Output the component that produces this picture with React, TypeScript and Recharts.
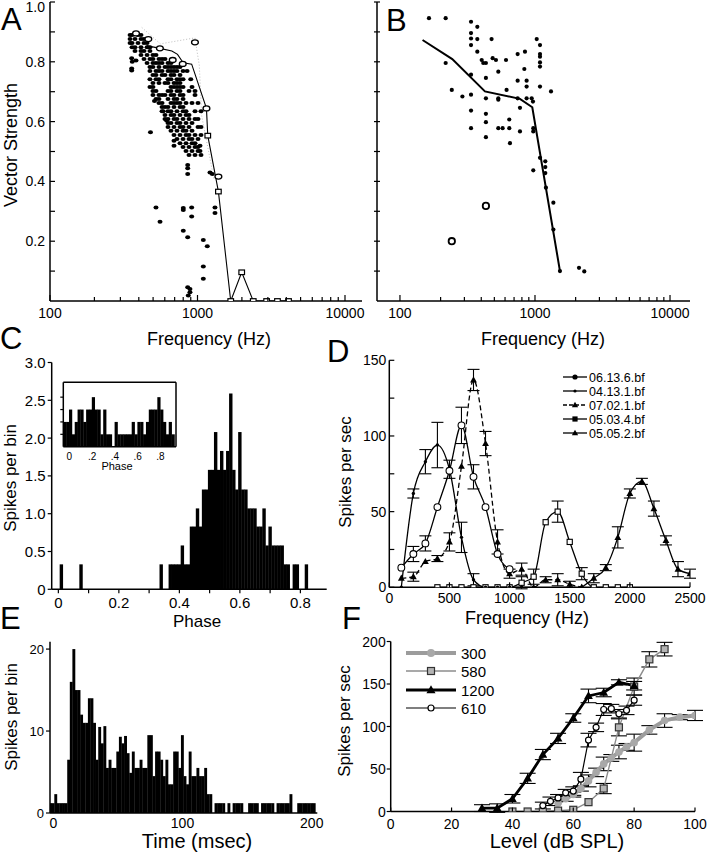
import React from "react";
import {
  ComposedChart,
  Scatter,
  Line,
  Bar,
  XAxis,
  YAxis,
  ErrorBar,
  ReferenceLine,
} from "recharts";

const W = 712;
const H = 853;
const FONT = "'Liberation Sans', Arial, Helvetica, sans-serif";
const AX = { stroke: "#000", strokeWidth: 1.5 };

// ---------- A: vector strength, population ----------
const aCloudRows: [number, number[]][] = [
  [0.89, [349, 360, 395, 414]],
  [0.876, [349, 377, 414, 434]],
  [0.863, [349, 360, 395, 434, 455]],
  [0.849, [360, 377, 414, 455, 476]],
  [0.836, [377, 414, 434, 476]],
  [0.823, [414, 455, 499, 523]],
  [0.809, [434, 476, 499, 548, 575, 602]],
  [0.796, [455, 499, 523, 548, 575, 631, 661]],
  [0.783, [476, 499, 548, 602, 631, 661, 693, 726, 761]],
  [0.769, [476, 523, 548, 575, 631, 661, 693, 726, 798, 850]],
  [0.756, [499, 523, 575, 602, 661, 693, 761]],
  [0.742, [476, 523, 548, 631, 661, 726, 761, 798, 900]],
  [0.729, [499, 548, 602, 631, 693, 726, 761]],
  [0.716, [476, 499, 661, 693, 726, 761, 798, 918]],
  [0.702, [499, 523, 631, 661, 726, 761, 876, 962]],
  [0.689, [499, 548, 575, 602, 661, 693, 761, 798, 962]],
  [0.676, [523, 548, 631, 693, 726, 798]],
  [0.662, [548, 575, 661, 693, 726, 761, 836, 918, 1008]],
  [0.649, [575, 602, 631, 693, 761, 798]],
  [0.635, [575, 631, 661, 726, 798, 836, 962, 1056]],
  [0.622, [602, 661, 693, 761, 836, 876]],
  [0.609, [602, 631, 693, 726, 798, 876, 962, 1008]],
  [0.595, [631, 661, 726, 761, 836, 918]],
  [0.582, [631, 693, 761, 798, 876, 1008, 1056]],
  [0.569, [661, 726, 798, 836, 918]],
  [0.555, [693, 761, 836, 876, 962, 1056]],
  [0.542, [726, 798, 876, 918, 1008]],
  [0.528, [761, 836, 918, 962]],
  [0.515, [798, 876, 962, 1008]],
  [0.502, [836, 918, 1008]],
  [0.488, [876, 962, 1056]],
];
const aExtraDots: [number, number][] = [
  [358, 0.812], [361, 0.8], [358, 0.778], [358, 0.771], [383, 0.804],
  [480, 0.564], [511, 0.669], [585, 0.635], [617, 0.604],
  [523, 0.313], [557, 0.265], [801, 0.311], [801, 0.304], [913, 0.313],
  [913, 0.283], [1314, 0.313], [1314, 0.294], [801, 0.235], [858, 0.213],
  [1095, 0.204], [1165, 0.183], [1095, 0.115], [1095, 0.074], [858, 0.046],
  [889, 0.04], [889, 0.029], [866, 0.018], [858, 0.455], [858, 0.444],
  [858, 0.425], [1215, 0.43], [1260, 0.425], [693, 0.536], [693, 0.519],
  [1040, 0.519], [1040, 0.502],
];
const aOpen: [number, number][] = [
  [383, 0.895], [464, 0.876], [556, 0.845], [679, 0.806], [794, 0.793],
  [961, 0.865], [1150, 0.644], [1386, 0.416],
];
const aSquares: [number, number][] = [
  [1174, 0.553], [1386, 0.366], [1680, 0], [1994, 0.096], [2388, 0],
  [2942, 0], [3484, 0], [4142, 0],
];
const aLine: [number, number][] = [
  [452, 0.854], [556, 0.845], [670, 0.836], [732, 0.825], [800, 0.797],
  [913, 0.792], [1150, 0.644], [1174, 0.553], [1386, 0.366], [1680, 0],
  [1994, 0.096], [2388, 0], [4142, 0],
];
const aGrey: [number, number][] = [
  [419, 0.915], [560, 0.86], [961, 0.88], [1029, 0.787], [1067, 0.62], [1290, 0.41],
];

// ---------- B: vector strength, single units ----------
const bDots: [number, number][] = [
  [164, 0.946], [218, 0.946], [336, 0.934], [374, 0.917], [336, 0.896],
  [336, 0.878], [374, 0.876], [477, 0.876], [1030, 0.876], [336, 0.856],
  [374, 0.834], [218, 0.796], [403, 0.806], [414, 0.796], [433, 0.796],
  [486, 0.812], [514, 0.806], [610, 0.806], [535, 0.767], [336, 0.757],
  [433, 0.746], [744, 0.826], [843, 0.834], [834, 0.776], [744, 0.737],
  [867, 0.737], [867, 0.717], [616, 0.706], [242, 0.706], [290, 0.684],
  [336, 0.69], [433, 0.678], [535, 0.678], [535, 0.673], [744, 0.678],
  [867, 0.678], [945, 0.678], [966, 0.667], [774, 0.646], [336, 0.637],
  [433, 0.626], [645, 0.607], [433, 0.598], [336, 0.578], [433, 0.548],
  [535, 0.578], [576, 0.578], [645, 0.578], [774, 0.567], [971, 0.578],
  [971, 0.567], [653, 0.528], [1089, 0.856], [1089, 0.826], [1089, 0.817],
  [1089, 0.798], [1089, 0.784], [1089, 0.717], [1314, 0.701], [1089, 0.479],
  [1192, 0.467], [1192, 0.448], [1192, 0.428], [971, 0.437], [1205, 0.379],
  [1368, 0.329], [1368, 0.239], [1531, 0.1], [2118, 0.111], [2318, 0.099],
];
const bOpen: [number, number][] = [[433, 0.318], [242, 0.2]];
const bLine: [number, number][] = [
  [147, 0.873], [244, 0.809], [426, 0.701], [774, 0.676], [955, 0.648], [1531, 0.1],
];

// ---------- C: phase histogram + inset ----------
const cPhase = [
  0.01, 0.075, 0.34, 0.37, 0.38, 0.39, 0.4, 0.41, 0.42, 0.43, 0.44, 0.45,
  0.46, 0.47, 0.48, 0.49, 0.5, 0.51, 0.52, 0.53, 0.54, 0.55, 0.56, 0.57,
  0.58, 0.59, 0.6, 0.61, 0.62, 0.63, 0.64, 0.65, 0.66, 0.67, 0.68, 0.69,
  0.7, 0.71, 0.72, 0.73, 0.74, 0.75, 0.76, 0.78, 0.79, 0.82,
];
const cCount = [
  0.33, 0.33, 0.33, 0.33, 0.33, 0.33, 0.33, 0.58, 0.33, 0.33, 0.83, 0.83,
  1.07, 0.83, 1.32, 1.32, 1.58, 1.58, 2.08, 1.58, 1.83, 1.58, 1.83, 2.59,
  1.58, 1.32, 2.08, 1.32, 1.32, 1.07, 1.07, 1.07, 0.83, 0.83, 1.07, 0.58,
  0.83, 0.58, 0.58, 0.58, 0.58, 0.33, 0.33, 0.33, 0.33, 0.33,
];
const insetPhase = [
  -0.0375, -0.0125, 0.0125, 0.0375, 0.0625, 0.0875, 0.1125, 0.1375, 0.1625,
  0.1875, 0.2125, 0.2375, 0.2625, 0.2875, 0.3125, 0.3375, 0.3625, 0.3875,
  0.4125, 0.4375, 0.4625, 0.4875, 0.5125, 0.5375, 0.5625, 0.5875, 0.6125,
  0.6375, 0.6625, 0.6875, 0.7125, 0.7375, 0.7625, 0.7875, 0.8125, 0.8375,
  0.8625, 0.8875, 0.9125,
];
const insetCount = [
  2, 2, 3, 1, 2, 3, 3, 2, 3, 3, 4, 3, 3, 1, 3, 1, 1, 0, 2, 1, 1, 1, 1, 1, 2,
  1, 2, 2, 1, 2, 3, 3, 3, 4, 3, 2, 1, 2, 1,
];

// ---------- D: tuning curves ----------
const d0413f = [100, 200, 300, 400, 500, 600, 700, 800, 900, 1000, 1100, 1200];
const d0413v = [0, 62, 83, 94, 78, 33, 5, 0, 0, 0, 0, 0];
const d0413e = [0, 3, 8, 15, 6, 10, 4, 0, 0, 0, 0, 0];
const d0613f = [100, 200, 300, 400, 500, 600, 700, 800, 900, 1000];
const d0613v = [13, 22, 29, 53, 77, 107, 73, 53, 22, 12];
const d0613e = [0, 5, 5, 0, 0, 12, 8, 0, 0, 0];
const d0702f = [100, 200, 300, 400, 500, 600, 700, 800, 900, 1000, 1100, 1200, 1300, 1400, 1500, 1600];
const d0702v = [6, 7, 17, 19, 30, 80, 137, 95, 30, 9, 12, 0, 5, 5, 2, 0];
const d0702e = [0, 3, 0, 2, 6, 0, 7, 8, 8, 3, 4, 0, 2, 4, 2, 0];
const d0503f = [400, 500, 600, 700, 800, 900, 1000, 1100, 1200, 1300, 1400, 1500, 1600, 1700, 1800, 1900, 2000];
const d0503v = [0, 0, 0, 0, 0, 0, 0, 3, 7, 43, 50, 30, 9, 0, 0, 0, 0];
const d0503e = [0, 0, 0, 0, 0, 0, 0, 4, 5, 0, 7, 0, 4, 0, 0, 0, 0];
const d0505f = [1600, 1700, 1800, 1900, 2000, 2100, 2200, 2300, 2400, 2500];
const d0505v = [0, 6, 13, 33, 62, 70, 52, 31, 12, 9];
const d0505e = [0, 3, 2, 7, 3, 2, 5, 3, 5, 3];

// ---------- E: PSTH ----------
const eBins: [number, number][] = [
  [-2, 1.2], [0, 1.2], [2, 2.3], [4, 1.2], [6, 1.2], [8, 1.2], [10, 1.2],
  [12, 6.5], [14, 16], [16, 20], [18, 15], [20, 15], [22, 12], [24, 11],
  [26, 11], [28, 14], [30, 14], [32, 11], [34, 6.5], [36, 10.5], [38, 8.5],
  [40, 10.6], [42, 5.5], [44, 6.5], [46, 5.5], [48, 5.5], [50, 7.5], [52, 9.3],
  [54, 8.5], [56, 9.4], [58, 7.3], [60, 4.9], [62, 7.5], [64, 5.5], [66, 5.5],
  [68, 6.5], [70, 5.5], [72, 5.5], [74, 9.5], [76, 9.5], [78, 4.5], [80, 7.5],
  [82, 7.5], [84, 6.5], [86, 4.5], [88, 6.5], [90, 3.5], [92, 3.5], [94, 7.5],
  [96, 7.5], [98, 5.5], [100, 9.5], [102, 4.5], [104, 3.5], [106, 7.5],
  [108, 4.5], [110, 4.5], [112, 5.5], [114, 4.5], [116, 4.5], [118, 5.5],
  [120, 2.3], [122, 2.3], [126, 1.2], [128, 1.2], [130, 1.2], [132, 1.2],
  [136, 1.2], [140, 1.2], [142, 1.2], [144, 1.2], [146, 1.2], [152, 1.2],
  [154, 1.2], [156, 1.2], [158, 1.2], [162, 1.2], [164, 1.2], [166, 1.2],
  [168, 1.2], [170, 1.2], [174, 1.2], [176, 1.2], [178, 1.2], [180, 1.2],
  [182, 1.2], [184, 2.3], [190, 1.2], [192, 1.2], [194, 1.2], [196, 1.2],
  [198, 1.2], [200, 1.2], [202, 1.2],
];

// ---------- F: rate-level functions ----------
const f300L = [55, 57.5, 60, 62.5, 65, 67.5, 70, 72.5, 75, 77.5, 80, 85, 90, 95, 100];
const f300v = [10, 15, 20, 27, 36, 46, 56, 63, 70, 76, 81, 96, 107, 111, 113];
const f300e = [0, 3, 3, 3, 7, 5, 8, 4, 8, 4, 10, 5, 8, 3, 6];
const f580L = [40, 45, 50, 55, 60, 65, 70, 75, 80, 85, 90];
const f580v = [0, 0, 0, 1, 2, 11, 27, 99, 147, 179, 191];
const f580e = [0, 0, 0, 0, 0, 0, 6, 10, 10, 9, 8];
const f1200L = [30, 35, 40, 45, 50, 55, 60, 65, 70, 75, 80];
const f1200v = [4, 4, 15, 39, 67, 86, 110, 136, 140, 152, 148];
const f1200e = [4, 5, 5, 6, 6, 6, 5, 8, 5, 3, 5];
const f610L = [50, 52.5, 55, 57.5, 60, 62.5, 65, 67.5, 70, 72.5, 75, 77.5, 80];
const f610v = [7, 12, 16, 22, 24, 38, 84, 99, 120, 121, 115, 119, 131];
const f610e = [4, 5, 4, 4, 5, 8, 8, 5, 7, 5, 5, 5, 6];

// ---------- ticks ----------
const logTicks = [100, 200, 300, 400, 500, 600, 700, 800, 900, 1000, 2000, 3000, 4000, 5000, 6000, 7000, 8000, 9000, 10000];
const logLabels: Record<number, string> = { 100: "100", 1000: "1000", 10000: "10000" };
const vsTicks = [0.1, 0.2, 0.3, 0.4, 0.5, 0.6, 0.7, 0.8, 0.9, 1];
const vsLabels: Record<number, string> = { 0.2: "0.2", 0.4: "0.4", 0.6: "0.6", 0.8: "0.8", 1: "1.0" };
const cYTicks = [0, 0.5, 1, 1.5, 2, 2.5, 3];
const cYLabels: Record<number, string> = { 0: "0", 0.5: "0.5", 1: "1.0", 1.5: "1.5", 2: "2.0", 2.5: "2.5", 3: "3.0" };
const cXTicks = [0, 0.1, 0.2, 0.3, 0.4, 0.5, 0.6, 0.7, 0.8];
const cXLabels: Record<number, string> = { 0: "0", 0.2: "0.2", 0.4: "0.4", 0.6: "0.6", 0.8: "0.8" };
const insetYTicks = [1, 2, 3, 4];
const insetXTicks = [0, 0.2, 0.4, 0.6, 0.8];
const insetXLabels: Record<number, string> = { 0: "0", 0.2: ".2", 0.4: ".4", 0.6: ".6", 0.8: ".8" };
const dYTicks = [0, 25, 50, 75, 100, 125, 150];
const dXTicks = [0, 500, 1000, 1500, 2000, 2500];
const eYTicks = [0, 10, 20];
const eXTicks = [0, 100, 200];
const fYTicks = [0, 50, 100, 150, 200];
const fXTicks = [0, 20, 40, 60, 80, 100];

// ---------- helpers ----------
type Box = { x: number; y: number; w: number; h: number };
const margins = (b: Box) => ({
  top: b.y,
  left: b.x - 30,
  right: W - b.x - b.w,
  bottom: H - b.y - b.h - 30,
});

const pts = (a: [number, number][]) => a.map(([f, v]) => ({ f, v }));
const series = (x: number[], y: number[], e: number[]) =>
  x.map((f, i) => ({ f, v: y[i], e: e[i] }));
const bins = (x: number[], y: number[]) => x.map((f, i) => ({ f, v: y[i] }));

type Seg = [number, number] | null;
function mkTick(
  axis: "x" | "y",
  seg: (v: number) => Seg,
  label: (v: number) => string | undefined,
  off: number,
  size = 14,
  nudge: (v: number) => number = () => 0
) {
  return (p: any) => {
    const { x, y, payload } = p;
    const v = payload.value as number;
    const s = seg(v);
    const lab = label(v);
    if (axis === "x") {
      return (
        <g>
          {s && <line x1={x} x2={x} y1={y - s[0]} y2={y - s[1]} stroke="#000" strokeWidth={1.2} />}
          {lab && (
            <text x={x} y={y + off} textAnchor="middle" fontSize={size} fontFamily={FONT} fill="#000">
              {lab}
            </text>
          )}
        </g>
      );
    }
    return (
      <g>
        {s && <line x1={x + s[0]} x2={x + s[1]} y1={y} y2={y} stroke="#000" strokeWidth={1.2} />}
        {lab && (
          <text x={x + off} y={y + size * 0.36 + nudge(v)} textAnchor="end" fontSize={size} fontFamily={FONT} fill="#000">
            {lab}
          </text>
        )}
      </g>
    );
  };
}

const axisBase = { tickSize: 0, tickMargin: 0, tickLine: false, axisLine: AX, interval: 0 as const, allowDataOverflow: true };

// histogram bar of a fixed pixel width, centred on the bin
const hist = (bw: number) => (p: any) => {
  if (!p.height || p.height <= 0) return <g />;
  const cx = p.x + p.width / 2;
  return <rect x={cx - bw / 2} y={p.y} width={bw} height={p.height} fill="#000" />;
};

// marks
const blob = (p: any) => <ellipse cx={p.cx} cy={p.cy} rx={2.5} ry={2} fill="#000" />;
const bDot = (p: any) => <circle cx={p.cx} cy={p.cy} r={2.1} fill="#000" />;
const openOval = (p: any) => (
  <ellipse cx={p.cx} cy={p.cy} rx={3.4} ry={2.5} fill="#fff" stroke="#000" strokeWidth={1.3} />
);
const openSq = (p: any) => (
  <rect x={p.cx - 2.8} y={p.cy - 2.3} width={5.6} height={4.6} fill="#fff" stroke="#000" strokeWidth={1.2} />
);
const bRing = (p: any) => <circle cx={p.cx} cy={p.cy} r={3.2} fill="#fff" stroke="#000" strokeWidth={1.8} />;

const tri = (cx: number, cy: number, s: number, fill: string, k?: any) => (
  <polygon
    key={k}
    points={`${cx},${cy - s} ${cx - s * 0.95},${cy + s * 0.7} ${cx + s * 0.95},${cy + s * 0.7}`}
    fill={fill}
  />
);

const dSmallDot = (p: any) => <circle key={p.index} cx={p.cx} cy={p.cy} r={1.7} fill="#000" />;
const dOpenCircle = (p: any) => (
  <circle key={p.index} cx={p.cx} cy={p.cy} r={3.4} fill="#fff" stroke="#000" strokeWidth={1.1} />
);
const dTri = (p: any) => tri(p.cx, p.cy, 3.6, "#000", p.index);
const dSq = (p: any) => (
  <rect key={p.index} x={p.cx - 2.6} y={p.cy - 2.6} width={5.2} height={5.2} fill="#fff" stroke="#000" strokeWidth={1.1} />
);

const f300Dot = (p: any) => <circle key={p.index} cx={p.cx} cy={p.cy} r={3.8} fill="#a8a8a8" />;
const f580Dot = (p: any) => (
  <rect key={p.index} x={p.cx - 3.5} y={p.cy - 3.5} width={7} height={7} fill="#b4b4b4" stroke="#333" strokeWidth={1.2} />
);
const f1200Dot = (p: any) => tri(p.cx, p.cy, 4.6, "#000", p.index);
const f610Dot = (p: any) => (
  <circle key={p.index} cx={p.cx} cy={p.cy} r={3} fill="#fff" stroke="#000" strokeWidth={1.2} />
);

const boxA: Box = { x: 50, y: 2, w: 312, h: 299 };
const boxB: Box = { x: 377, y: 2, w: 313, h: 299 };
const boxC: Box = { x: 51.7, y: 362.5, w: 275, h: 226.8 };
const boxInset: Box = { x: 63.3, y: 382.3, w: 112.7, h: 64.4 };
const boxD: Box = { x: 389.3, y: 360.3, w: 300.7, h: 227 };
const boxE: Box = { x: 50, y: 641.7, w: 267.3, h: 171.3 };
const boxF: Box = { x: 390.7, y: 641.5, w: 304.3, h: 170 };

const layer: React.CSSProperties = { position: "absolute", left: 0, top: 0 };

const aCloud = aCloudRows.flatMap(([v, fs]) => fs.map((f) => ({ f, v })));

function Txt({ x, y, s = 17, rot = false, anchor = "middle", children }: any) {
  return (
    <text
      x={rot ? 0 : x}
      y={rot ? 0 : y}
      transform={rot ? `translate(${x},${y}) rotate(-90)` : undefined}
      textAnchor={anchor}
      fontSize={s}
      fontFamily={FONT}
      fill="#000"
    >
      {children}
    </text>
  );
}

const dLegend = [
  { name: "06.13.6.bf", dash: undefined, mark: (x: number, y: number) => <circle cx={x} cy={y} r={2.6} fill="#000" /> },
  { name: "04.13.1.bf", dash: undefined, mark: (x: number, y: number) => <circle cx={x} cy={y} r={1.6} fill="#000" /> },
  { name: "07.02.1.bf", dash: "4 2", mark: (x: number, y: number) => tri(x, y, 3.3, "#000") },
  { name: "05.03.4.bf", dash: undefined, mark: (x: number, y: number) => <rect x={x - 2.6} y={y - 2.6} width={5.2} height={5.2} fill="#000" /> },
  { name: "05.05.2.bf", dash: undefined, mark: (x: number, y: number) => tri(x, y, 3.3, "#000") },
];
const dLegendY = [377, 391, 405, 419, 433];

const fLegend = [
  { name: "300", stroke: "#9c9c9c", w: 4, mark: (x: number, y: number) => <circle cx={x} cy={y} r={4} fill="#a8a8a8" /> },
  { name: "580", stroke: "#8c8c8c", w: 1.3, mark: (x: number, y: number) => <rect x={x - 3.5} y={y - 3.5} width={7} height={7} fill="#b4b4b4" stroke="#333" strokeWidth={1.2} /> },
  { name: "1200", stroke: "#000", w: 3, mark: (x: number, y: number) => tri(x, y, 4.8, "#000") },
  { name: "610", stroke: "#000", w: 1.2, mark: (x: number, y: number) => <circle cx={x} cy={y} r={3} fill="#fff" stroke="#000" strokeWidth={1.2} /> },
];
const fLegendY = [653, 671, 690, 708];

export default function App() {
  return (
    <div style={{ position: "absolute", left: 0, top: 0, width: W, height: H, background: "#fff", fontFamily: FONT }}>
      {/* A */}
      <div style={layer}>
        <ComposedChart width={W} height={H} margin={margins(boxA)}>
          <XAxis type="number" dataKey="f" scale="log" domain={[100, 13040]} ticks={logTicks} height={30} {...axisBase}
            tick={mkTick("x", (v) => (logLabels[v] ? [0, 6] : [0, 4]), (v) => logLabels[v], 17)} />
          <YAxis type="number" dataKey="v" domain={[0, 1]} ticks={vsTicks} width={30} {...axisBase}
            tick={mkTick("y", () => [0, 5], (v) => vsLabels[v], -5, 14, (v) => (v === 1 ? 5 : 0))} />
          <Line data={pts(aGrey)} dataKey="v" stroke="#bdbdbd" strokeWidth={1} strokeDasharray="1 2" dot={false} activeDot={false} isAnimationActive={false} />
          <Scatter data={aCloud} shape={blob} isAnimationActive={false} />
          <Scatter data={pts(aExtraDots)} shape={blob} isAnimationActive={false} />
          <Line data={pts(aLine)} dataKey="v" stroke="#000" strokeWidth={1.1} dot={false} activeDot={false} isAnimationActive={false} />
          <Scatter data={pts(aOpen)} shape={openOval} isAnimationActive={false} />
          <Scatter data={pts(aSquares)} shape={openSq} isAnimationActive={false} />
        </ComposedChart>
      </div>

      {/* B */}
      <div style={layer}>
        <ComposedChart width={W} height={H} margin={margins(boxB)}>
          <XAxis type="number" dataKey="f" scale="log" domain={[67.6, 14060]} ticks={logTicks} height={30} {...axisBase}
            tick={mkTick("x", (v) => (logLabels[v] ? [0, 6] : [0, 4]), (v) => logLabels[v], 17)} />
          <YAxis type="number" dataKey="v" domain={[0, 1]} ticks={vsTicks} width={30} {...axisBase}
            tick={mkTick("y", () => [-3, 3], () => undefined, -5)} />
          <Scatter data={pts(bDots)} shape={bDot} isAnimationActive={false} />
          <Line data={pts(bLine)} dataKey="v" stroke="#000" strokeWidth={2} dot={false} activeDot={false} isAnimationActive={false} />
          <Scatter data={pts(bOpen)} shape={bRing} isAnimationActive={false} />
        </ComposedChart>
      </div>

      {/* C */}
      <div style={layer}>
        <ComposedChart width={W} height={H} margin={margins(boxC)} data={bins(cPhase, cCount)} barGap={0} barCategoryGap={0}>
          <XAxis type="number" dataKey="f" domain={[-0.022, 0.887]} ticks={cXTicks} height={30} {...axisBase}
            tick={mkTick("x", () => [0, -4], (v) => cXLabels[v], 19, 15)} />
          <YAxis type="number" domain={[0, 3]} ticks={cYTicks} width={30} {...axisBase}
            tick={mkTick("y", () => [0, -4], (v) => cYLabels[v], -6, 15)} />
          <Bar dataKey="v" fill="#000" barSize={3} shape={hist(3.4)} isAnimationActive={false} />
        </ComposedChart>
      </div>

      {/* C inset */}
      <div style={layer}>
        <ComposedChart width={W} height={H} margin={margins(boxInset)} data={bins(insetPhase, insetCount)} barGap={0} barCategoryGap={0}>
          <XAxis type="number" dataKey="f" domain={[-0.053, 0.936]} ticks={insetXTicks} height={30} {...axisBase}
            tick={mkTick("x", () => null, (v) => insetXLabels[v], 13, 10)} />
          <YAxis type="number" domain={[0, 5.2]} ticks={insetYTicks} width={30} {...axisBase}
            tick={mkTick("y", () => [0, -3], () => undefined, -4)} />
          <Bar dataKey="v" fill="#000" barSize={3} shape={hist(3.2)} isAnimationActive={false} />
          <ReferenceLine y={5.2} stroke="#000" strokeWidth={1.5} />
          <ReferenceLine x={0.936} stroke="#000" strokeWidth={1.5} />
        </ComposedChart>
      </div>

      {/* D */}
      <div style={layer}>
        <ComposedChart width={W} height={H} margin={margins(boxD)}>
          <XAxis type="number" dataKey="f" domain={[0, 2500]} ticks={dXTicks} height={30} {...axisBase}
            tick={mkTick("x", () => [0, 5], (v) => String(v), 16)} />
          <YAxis type="number" domain={[0, 150]} ticks={dYTicks} width={30} {...axisBase}
            tick={mkTick("y", () => [0, 5], (v) => (v % 50 === 0 ? String(v) : undefined), -3)} />
          <Line data={series(d0503f, d0503v, d0503e)} dataKey="v" type="monotone" stroke="#000" strokeWidth={1.3} dot={dSq} activeDot={false} isAnimationActive={false}>
            <ErrorBar dataKey="e" width={6} stroke="#000" strokeWidth={1.1} direction="y" isAnimationActive={false} />
          </Line>
          <Line data={series(d0702f, d0702v, d0702e)} dataKey="v" type="monotone" stroke="#000" strokeWidth={1.3} strokeDasharray="5 3" dot={dTri} activeDot={false} isAnimationActive={false}>
            <ErrorBar dataKey="e" width={6} stroke="#000" strokeWidth={1.1} direction="y" isAnimationActive={false} />
          </Line>
          <Line data={series(d0413f, d0413v, d0413e)} dataKey="v" type="monotone" stroke="#000" strokeWidth={1.3} dot={dSmallDot} activeDot={false} isAnimationActive={false}>
            <ErrorBar dataKey="e" width={6} stroke="#000" strokeWidth={1.1} direction="y" isAnimationActive={false} />
          </Line>
          <Line data={series(d0613f, d0613v, d0613e)} dataKey="v" type="monotone" stroke="#000" strokeWidth={1.3} dot={dOpenCircle} activeDot={false} isAnimationActive={false}>
            <ErrorBar dataKey="e" width={6} stroke="#000" strokeWidth={1.1} direction="y" isAnimationActive={false} />
          </Line>
          <Line data={series(d0505f, d0505v, d0505e)} dataKey="v" type="monotone" stroke="#000" strokeWidth={1.3} dot={dTri} activeDot={false} isAnimationActive={false}>
            <ErrorBar dataKey="e" width={6} stroke="#000" strokeWidth={1.1} direction="y" isAnimationActive={false} />
          </Line>
        </ComposedChart>
      </div>

      {/* E */}
      <div style={layer}>
        <ComposedChart width={W} height={H} margin={margins(boxE)} data={pts(eBins)} barGap={0} barCategoryGap={0}>
          <XAxis type="number" dataKey="f" domain={[-2.55, 204.3]} ticks={eXTicks} height={30} {...axisBase}
            tick={mkTick("x", () => null, (v) => String(v), 15, 14)} />
          <YAxis type="number" domain={[0, 20.9]} ticks={eYTicks} width={30} {...axisBase}
            tick={mkTick("y", () => [0, -4], (v) => String(v), -6, 13)} />
          <Bar dataKey="v" fill="#000" barSize={2.6} shape={hist(2.9)} isAnimationActive={false} />
        </ComposedChart>
      </div>

      {/* F */}
      <div style={layer}>
        <ComposedChart width={W} height={H} margin={margins(boxF)}>
          <XAxis type="number" dataKey="f" domain={[0, 100]} ticks={fXTicks} height={30} {...axisBase}
            tick={mkTick("x", () => [0, 4], (v) => String(v), 17)} />
          <YAxis type="number" domain={[0, 200]} ticks={fYTicks} width={30} {...axisBase}
            tick={mkTick("y", () => [0, -4], (v) => String(v), -5)} />
          <Line data={series(f300L, f300v, f300e)} dataKey="v" stroke="#9c9c9c" strokeWidth={4} dot={f300Dot} activeDot={false} isAnimationActive={false}>
            <ErrorBar dataKey="e" width={8} stroke="#000" strokeWidth={1.1} direction="y" isAnimationActive={false} />
          </Line>
          <Line data={series(f580L, f580v, f580e)} dataKey="v" stroke="#8c8c8c" strokeWidth={1.4} dot={f580Dot} activeDot={false} isAnimationActive={false}>
            <ErrorBar dataKey="e" width={8} stroke="#000" strokeWidth={1.1} direction="y" isAnimationActive={false} />
          </Line>
          <Line data={series(f610L, f610v, f610e)} dataKey="v" stroke="#000" strokeWidth={1.2} dot={f610Dot} activeDot={false} isAnimationActive={false}>
            <ErrorBar dataKey="e" width={8} stroke="#000" strokeWidth={1.1} direction="y" isAnimationActive={false} />
          </Line>
          <Line data={series(f1200L, f1200v, f1200e)} dataKey="v" stroke="#000" strokeWidth={2.8} dot={f1200Dot} activeDot={false} isAnimationActive={false}>
            <ErrorBar dataKey="e" width={8} stroke="#000" strokeWidth={1.1} direction="y" isAnimationActive={false} />
          </Line>
        </ComposedChart>
      </div>

      {/* letters, titles, legends */}
      <svg style={{ ...layer, pointerEvents: "none" }} width={W} height={H}>
        <Txt x={1} y={30} s={31} anchor="start">A</Txt>
        <Txt x={386} y={31} s={31} anchor="start">B</Txt>
        <Txt x={0} y={349} s={31} anchor="start">C</Txt>
        <Txt x={327} y={362} s={31} anchor="start">D</Txt>
        <Txt x={0} y={629} s={31} anchor="start">E</Txt>
        <Txt x={342} y={629} s={31} anchor="start">F</Txt>

        <Txt x={17} y={145} s={18} rot>Vector Strength</Txt>
        <Txt x={209} y={345} s={18}>Frequency (Hz)</Txt>
        <Txt x={543} y={345} s={18}>Frequency (Hz)</Txt>
        <Txt x={16} y={478} s={17} rot>Spikes per bin</Txt>
        <Txt x={197} y={627} s={17}>Phase</Txt>
        <Txt x={117} y={470} s={11}>Phase</Txt>
        <Txt x={351} y={472} s={17} rot>Spikes per sec</Txt>
        <Txt x={527} y={624} s={18}>Frequency (Hz)</Txt>
        <Txt x={17} y={717} s={17} rot>Spikes per bin</Txt>
        <Txt x={197} y={848} s={20}>Time (msec)</Txt>
        <Txt x={350} y={721} s={17} rot>Spikes per sec</Txt>
        <Txt x={557} y={848} s={20}>Level (dB SPL)</Txt>

        {dLegend.map((d, i) => (
          <g key={d.name}>
            <line x1={563} x2={587} y1={dLegendY[i]} y2={dLegendY[i]} stroke="#000" strokeWidth={1.3} strokeDasharray={d.dash} />
            {d.mark(575, dLegendY[i])}
            <Txt x={589} y={dLegendY[i] + 4.5} s={12.5} anchor="start">{d.name}</Txt>
          </g>
        ))}
        {fLegend.map((d, i) => (
          <g key={d.name}>
            <line x1={406} x2={456} y1={fLegendY[i]} y2={fLegendY[i]} stroke={d.stroke} strokeWidth={d.w} />
            {d.mark(431, fLegendY[i])}
            <Txt x={461} y={fLegendY[i] + 5.5} s={15} anchor="start">{d.name}</Txt>
          </g>
        ))}
      </svg>
    </div>
  );
}
